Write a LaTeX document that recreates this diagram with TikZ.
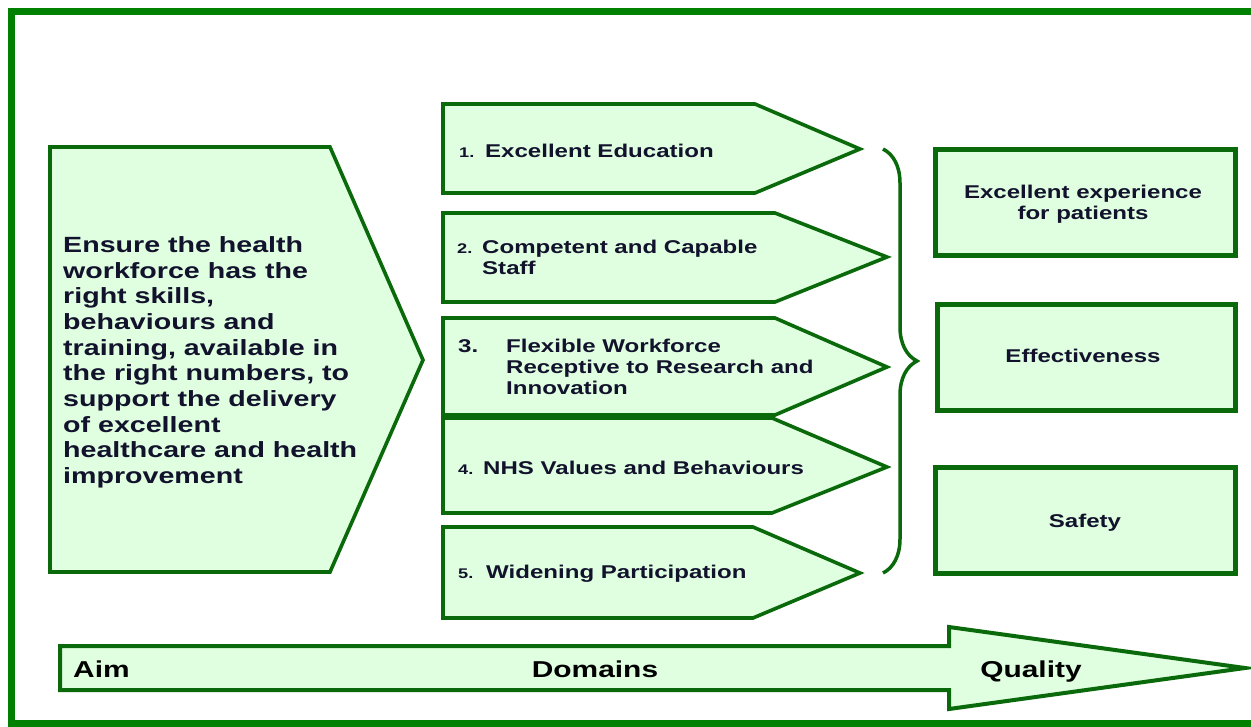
\documentclass[tikz,border=0pt]{standalone}
\usepackage{fontspec}
\setmainfont{Liberation Sans}[FakeStretch=1.3]
\usetikzlibrary{decorations.pathreplacing}

\definecolor{framegreen}{RGB}{0,128,0}
\definecolor{edgegreen}{RGB}{10,105,10}
\definecolor{palegreen}{RGB}{224,255,224}
\definecolor{inkblue}{RGB}{18,18,45}

\tikzset{
    arrowbox/.style={draw=edgegreen, fill=palegreen, line width=3.6pt, line join=miter},
    qualitybox/.style={draw=edgegreen, fill=palegreen, line width=5pt},
    aimfont/.style={font=\bfseries\fontsize{22}{25.7}\selectfont, text=inkblue, inner sep=0pt},
    domainfont/.style={font=\bfseries\fontsize{18.5}{21}\selectfont, text=inkblue, inner sep=0pt},
    numfont/.style={font=\bfseries\fontsize{14}{16}\selectfont, text=inkblue, inner sep=0pt},
    barfont/.style={font=\bfseries\fontsize{23}{26}\selectfont, text=black, inner sep=0pt},
}

\begin{document}
\begin{tikzpicture}[x=1pt, y=-1pt]
    \useasboundingbox (0,0) rectangle (1251,726);
    %% Frame
    \draw[framegreen, line width=7pt]
    (1251,11) -- (11,11) -- (11,723) -- (1251,723);

    %% Aim
    \draw[arrowbox] (50,147) -- (330,147) -- (423,360) -- (330,572) -- (50,572) -- cycle;
    \node[aimfont, anchor=north west, align=left] (aimtext) at (63,236.2)
    {Ensure the health\\workforce has the\\right skills,\\behaviours and\\training, available in\\the right numbers, to\\support the delivery\\of excellent\\healthcare and health\\improvement};

    %% Domains
    \draw[arrowbox] (443,104) -- (755,104) -- (860,149) -- (755,193) -- (443,193) -- cycle;
    \draw[arrowbox] (443,213) -- (775,213) -- (887,257) -- (775,302) -- (443,302) -- cycle;
    \draw[arrowbox] (443,318) -- (775,318) -- (887,367) -- (775,415) -- (443,415) -- cycle;
    \draw[arrowbox] (443,418) -- (772,418) -- (887,467) -- (772,513) -- (443,513) -- cycle;
    \draw[arrowbox] (443,527) -- (753,527) -- (860,573) -- (753,618) -- (443,618) -- cycle;
    \draw
    (459,157) node[numfont, anchor=base west] (num1) {1.}
    (485,157) node[domainfont, anchor=base west] (dom1) {Excellent Education}
    (457,253) node[numfont, anchor=base west] (num2) {2.}
    (482,239.7) node[domainfont, anchor=north west, align=left] (dom2) {Competent and Capable\\Staff}
    (458,352) node[domainfont, anchor=base west] (num3) {3.}
    (506,338.7) node[domainfont, anchor=north west, align=left] (dom3) {Flexible Workforce\\Receptive to Research and\\Innovation}
    (458,474) node[numfont, anchor=base west] (num4) {4.}
    (483,474) node[domainfont, anchor=base west] (dom4) {NHS Values and Behaviours}
    (458,578) node[numfont, anchor=base west] (num5) {5.}
    (486,578) node[domainfont, anchor=base west] (dom5) {Widening Participation}
    ;

    %% Brace
    \coordinate (bracetop) at (883,149);
    \coordinate (bracebot) at (883,573);
    \draw[edgegreen, line width=3.5pt, decorate, decoration={brace, amplitude=34pt}]
    (bracetop) to (bracebot);

    %% Quality
    \draw[qualitybox] (935,149) rectangle (1235,255);
    \draw[qualitybox] (937,304) rectangle (1235,410);
    \draw[qualitybox] (935,467) rectangle (1235,573);
    \draw
    (1083,204) node[domainfont, align=center] (qual1) {Excellent experience\\for patients}
    (1083,362) node[domainfont, anchor=base] (qual2) {Effectiveness}
    (1085,527) node[domainfont, anchor=base] (qual3) {Safety}
    ;

    %% Aim - Domains - Quality
    \draw[arrowbox, line width=4pt]
    (60,646) -- (949,646) -- (949,627) -- (1245,668) -- (949,709) -- (949,690) -- (60,690) -- cycle;
    \draw
    (73,677) node[barfont, anchor=base west] (aimlabel) {Aim}
    (595,677) node[barfont, anchor=base] (domainslabel) {Domains}
    (1031,677) node[barfont, anchor=base] (qualitylabel) {Quality}
    ;
\end{tikzpicture}
\end{document}
